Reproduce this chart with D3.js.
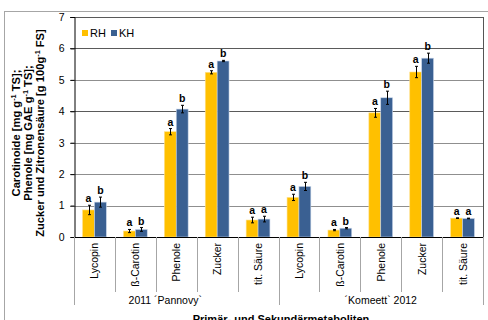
<!DOCTYPE html>
<html>
<head>
<meta charset="utf-8">
<script src="https://cdn.jsdelivr.net/npm/d3@7"></script>
<style>
  html, body { margin: 0; padding: 0; background: #fff; }
  svg { display: block; font-family: "Liberation Sans", Arial, sans-serif; }
</style>
</head>
<body>
<svg id="chart" width="488" height="320"></svg>
<script>
// Metabolites per season, two harvest variants (RH, KH)
const groups = ["2011 ´Pannovy`", "´Komeett` 2012"];
const metabolites = ["Lycopin", "ß-Carotin", "Phenole", "Zucker", "tit. Säure"];
const series = ["RH", "KH"];
const rhValues = [0.86, 0.19, 3.35, 5.24, 0.54, 1.26, 0.22, 3.95, 5.25, 0.60];
const khValues = [1.11, 0.24, 4.07, 5.60, 0.57, 1.61, 0.28, 4.43, 5.69, 0.59];
const rhErrors = [0.15, 0.05, 0.10, 0.05, 0.09, 0.10, 0.02, 0.14, 0.18, 0.01];
const khErrors = [0.16, 0.06, 0.12, 0.02, 0.09, 0.13, 0.02, 0.21, 0.16, 0.01];
const rhLetters = ["a", "a", "a", "a", "a", "a", "a", "a", "a", "a"];
const khLetters = ["b", "b", "b", "b", "a", "b", "b", "b", "b", "a"];
const yTicks = [0, 1, 2, 3, 4, 5, 6, 7];
const colors = { RH: "#FFC000", KH: "#3A6092" };

const svg = d3.select("#chart");
const m = { left: 74, right: 483, top: 17, bottom: 237 };

// Outer chart frame
svg.append("rect").attr("x", 4.5).attr("y", 11.5).attr("width", 490).attr("height", 320)
  .attr("fill", "none").attr("stroke", "#a6a6a6");

const cats = d3.range(rhValues.length);
const x0 = d3.scaleBand().domain(cats).range([m.left, m.right]).paddingInner(0).paddingOuter(0);
const x1 = d3.scaleBand().domain(series).range([0, x0.bandwidth()]).paddingInner(0).paddingOuter(0.72);
const y = d3.scaleLinear().domain([0, 7]).range([m.bottom, m.top]);

// Horizontal gridlines
svg.append("g").selectAll("line").data(yTicks.filter(t => t > 0)).join("line")
  .attr("x1", m.left - 4).attr("x2", m.right)
  .attr("y1", d => Math.round(y(d)) + 0.5).attr("y2", d => Math.round(y(d)) + 0.5)
  .attr("stroke", d => (d === 7 || d === 6 || d === 4) ? "#5a5a5a" : "#8f8f8f").attr("stroke-width", 1);

// Right border of the plot
svg.append("line").attr("x1", m.right + 0.5).attr("x2", m.right + 0.5)
  .attr("y1", m.top).attr("y2", m.bottom).attr("stroke", "#555");

// Y axis
const yAxis = svg.append("g").attr("transform", `translate(${m.left + 0.5},0)`)
  .call(d3.axisLeft(y).tickValues(yTicks).tickSize(4).tickPadding(6).tickFormat(d3.format("d")));
yAxis.select(".domain").attr("stroke", "#000");
yAxis.selectAll(".tick line").attr("stroke", "#000");
yAxis.selectAll("text").attr("font-size", 10.5).attr("fill", "#000")
  .attr("font-family", "Liberation Sans, Arial, sans-serif");

// Bars
const flat = [];
cats.forEach(i => {
  flat.push({ i, s: "RH", v: rhValues[i], e: rhErrors[i], l: rhLetters[i] });
  flat.push({ i, s: "KH", v: khValues[i], e: khErrors[i], l: khLetters[i] });
});
const bx = d => x0(d.i) + x1(d.s);
svg.append("g").selectAll("rect").data(flat).join("rect")
  .attr("x", bx).attr("width", x1.bandwidth())
  .attr("y", d => y(d.v)).attr("height", d => y(0) - y(d.v))
  .attr("fill", d => colors[d.s])
  .attr("stroke", d => d.s === "KH" ? "#c9d6ea" : "#ffe08a").attr("stroke-width", 0.6);

// Error bars
const eb = svg.append("g").attr("stroke", "#000").attr("stroke-width", 1);
flat.forEach(d => {
  const cx = Math.round(bx(d) + x1.bandwidth() / 2) + 0.5;
  const y1 = y(d.v + d.e), y2 = y(d.v - d.e);
  eb.append("line").attr("x1", cx).attr("x2", cx).attr("y1", y1).attr("y2", y2);
  eb.append("line").attr("x1", cx - 1.5).attr("x2", cx + 1.5).attr("y1", y1).attr("y2", y1);
  eb.append("line").attr("x1", cx - 1.5).attr("x2", cx + 1.5).attr("y1", y2).attr("y2", y2);
});

// Significance letters
svg.append("g").selectAll("text").data(flat).join("text")
  .attr("x", d => bx(d) + x1.bandwidth() / 2)
  .attr("y", d => y(d.v + d.e) - 3)
  .attr("text-anchor", "middle").attr("font-size", 10.5).attr("font-weight", "bold")
  .attr("fill", "#000").text(d => d.l);

// X axis line
svg.append("line").attr("x1", m.left).attr("x2", m.right + 1)
  .attr("y1", m.bottom + 0.5).attr("y2", m.bottom + 0.5).attr("stroke", "#000");

// Category separator ticks
const bounds = d3.range(cats.length + 1).map(k => m.left + k * x0.step());
svg.append("g").selectAll("line").data(bounds).join("line")
  .attr("x1", d => Math.round(d) + 0.5).attr("x2", d => Math.round(d) + 0.5)
  .attr("y1", m.bottom)
  .attr("y2", (d, k) => (k % metabolites.length === 0) ? 305 : 292)
  .attr("stroke", "#a6a6a6");

// Category labels (rotated)
svg.append("g").selectAll("text").data(cats).join("text")
  .attr("transform", i => `translate(${x0(i) + x0.bandwidth() / 2 + 4},243) rotate(-90)`)
  .attr("text-anchor", "end").attr("font-size", 10.5).attr("fill", "#000")
  .text(i => metabolites[i % metabolites.length]);

// Group labels
const groupCenters = groups.map((g, k) => m.left + (k + 0.5) * metabolites.length * x0.step());
svg.append("g").selectAll("text").data(groups).join("text")
  .attr("x", (g, k) => groupCenters[k] + (k === 0 ? -11 : 0)).attr("y", 304)
  .attr("text-anchor", "middle").attr("font-size", 10.5).attr("fill", "#000")
  .text(g => g);

// X axis title
svg.append("text").attr("x", 281).attr("y", 323).attr("text-anchor", "middle")
  .attr("font-size", 11).attr("font-weight", "bold").attr("fill", "#000")
  .text("Primär- und Sekundärmetaboliten");

// Y axis title (three lines), sized so the longest line spans the plot height
const yTitle = svg.append("text").attr("transform", "translate(0,133) rotate(-90)")
  .attr("text-anchor", "middle").attr("font-size", 10.5).attr("font-weight", "bold").attr("fill", "#000");
const titleLines = [
  ["Carotinoide [mg g", "-1", " TS];"],
  ["Phenole [mg GAE g", "-1", " TS];"],
  ["Zucker und Zitronensäure [g 100g", "-1", " FS]"]
];
const baselines = [20, 32, 44];
const lineNodes = titleLines.map((parts, k) => {
  const t = yTitle.append("tspan").attr("x", 0).attr("y", baselines[k]);
  t.append("tspan").text(parts[0]);
  t.append("tspan").attr("class", "sup").attr("dy", -4).attr("font-size", 7).text(parts[1]);
  t.append("tspan").attr("dy", 4).text(parts[2]);
  return t;
});
const longest = d3.max(lineNodes, t => t.node().getComputedTextLength());
if (longest > 0) {
  const fs = Math.min(11.5, Math.max(10, 10.5 * 208 / longest));
  yTitle.attr("font-size", fs);
  yTitle.selectAll(".sup").attr("font-size", fs * 0.65);
}

// Legend
const legend = svg.append("g").attr("transform", "translate(82,30)");
series.forEach((s, k) => {
  const g = legend.append("g").attr("transform", `translate(${k * 29},0)`);
  g.append("rect").attr("width", 6).attr("height", 6).attr("fill", colors[s]);
  g.append("text").attr("x", 8).attr("y", 7).attr("font-size", 11).attr("fill", "#000").text(s);
});
</script>
</body>
</html>
